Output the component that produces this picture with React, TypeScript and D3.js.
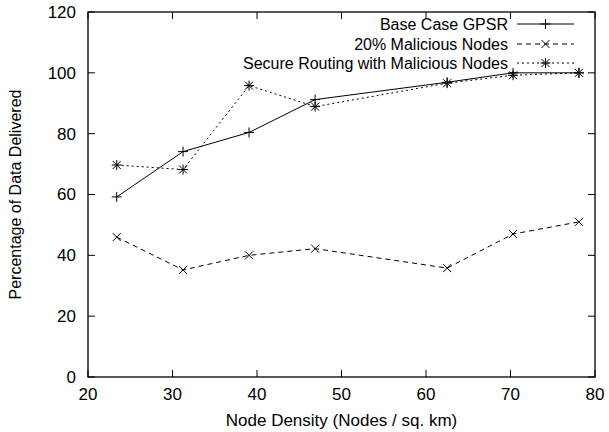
import React from "react";
import * as d3 from "d3";

const densities = [23.4, 31.25, 39.06, 46.88, 62.5, 70.3, 78.1];
const baseCase = [59.2, 74.1, 80.4, 91.2, 96.9, 100, 100];
const malicious = [46, 35.2, 40, 42.2, 35.8, 47, 51];
const secure = [69.7, 68.2, 95.8, 88.9, 96.6, 99.2, 100];
const xTicks = [20, 30, 40, 50, 60, 70, 80];
const yTicks = [0, 20, 40, 60, 80, 100, 120];
const seriesNames = ["Base Case GPSR", "20% Malicious Nodes", "Secure Routing with Malicious Nodes"];

const W = 609, H = 432;
const L = 88, R = 595, T = 12, B = 377;
const FONT = "'Liberation Sans', Arial, Helvetica, sans-serif";
const FS = 16;
const FS_TICK = 17;

type Marker = "plus" | "cross" | "star";

function MarkerShape({ x, y, kind }: { x: number; y: number; kind: Marker }) {
  const s = 5;
  const c = s * 0.8;
  const plus = `M${x - s},${y}L${x + s},${y}M${x},${y - s}L${x},${y + s}`;
  const cross = `M${x - c},${y - c}L${x + c},${y + c}M${x - c},${y + c}L${x + c},${y - c}`;
  const d = kind === "plus" ? plus : kind === "cross" ? cross : plus + cross;
  return <path d={d} stroke="#000" strokeWidth={1} fill="none" />;
}

export default function App() {
  const x = d3.scaleLinear().domain([20, 80]).range([L, R]);
  const y = d3.scaleLinear().domain([0, 120]).range([B, T]);
  const line = d3
    .line<[number, number]>()
    .x((d) => x(d[0]))
    .y((d) => y(d[1]));

  const series: { name: string; vals: number[]; dash: string | undefined; marker: Marker }[] = [
    { name: seriesNames[0], vals: baseCase, dash: undefined, marker: "plus" },
    { name: seriesNames[1], vals: malicious, dash: "5,4", marker: "cross" },
    { name: seriesNames[2], vals: secure, dash: "2,3", marker: "star" },
  ];

  const tickLen = 7;
  const legendY = [24, 44, 63];

  return (
    <svg width={W} height={H} style={{ position: "absolute", left: 0, top: 0, background: "#fff" }}>
      <rect x={0} y={0} width={W} height={H} fill="#fff" />
      {xTicks.map((t) => (
        <g key={"x" + t}>
          <line x1={x(t)} x2={x(t)} y1={B} y2={B - tickLen} stroke="#000" />
          <line x1={x(t)} x2={x(t)} y1={T} y2={T + tickLen} stroke="#000" />
          <text x={x(t)} y={400} textAnchor="middle" fontFamily={FONT} fontSize={FS_TICK}>
            {t}
          </text>
        </g>
      ))}
      {yTicks.map((t) => (
        <g key={"y" + t}>
          <line x1={L} x2={L + tickLen} y1={y(t)} y2={y(t)} stroke="#000" />
          <line x1={R} x2={R - tickLen} y1={y(t)} y2={y(t)} stroke="#000" />
          <text x={76} y={y(t)} dy="0.35em" textAnchor="end" fontFamily={FONT} fontSize={FS_TICK}>
            {t}
          </text>
        </g>
      ))}
      {series.map((s, i) => {
        const pts: [number, number][] = densities.map((d, j) => [d, s.vals[j]]);
        return (
          <g key={i}>
            <path d={line(pts) || ""} fill="none" stroke="#000" strokeWidth={1} strokeDasharray={s.dash} />
            {pts.map((p, j) => (
              <MarkerShape key={j} x={x(p[0])} y={y(p[1])} kind={s.marker} />
            ))}
          </g>
        );
      })}
      {series.map((s, i) => (
        <g key={"lg" + i}>
          <text x={508} y={legendY[i]} dy="0.35em" textAnchor="end" fontFamily={FONT} fontSize={FS}>
            {s.name}
          </text>
          <line x1={517} x2={574} y1={legendY[i]} y2={legendY[i]} stroke="#000" strokeDasharray={s.dash} />
          <MarkerShape x={545.5} y={legendY[i]} kind={s.marker} />
        </g>
      ))}
      <rect x={L} y={T} width={R - L} height={B - T} fill="none" stroke="#000" strokeWidth={1.3} />
      <text x={(L + R) / 2} y={426} textAnchor="middle" fontFamily={FONT} fontSize={17}>
        Node Density (Nodes / sq. km)
      </text>
      <text
        transform={`translate(21,${(T + B) / 2}) rotate(-90)`}
        textAnchor="middle"
        fontFamily={FONT}
        fontSize={FS}
      >
        Percentage of Data Delivered
      </text>
    </svg>
  );
}
